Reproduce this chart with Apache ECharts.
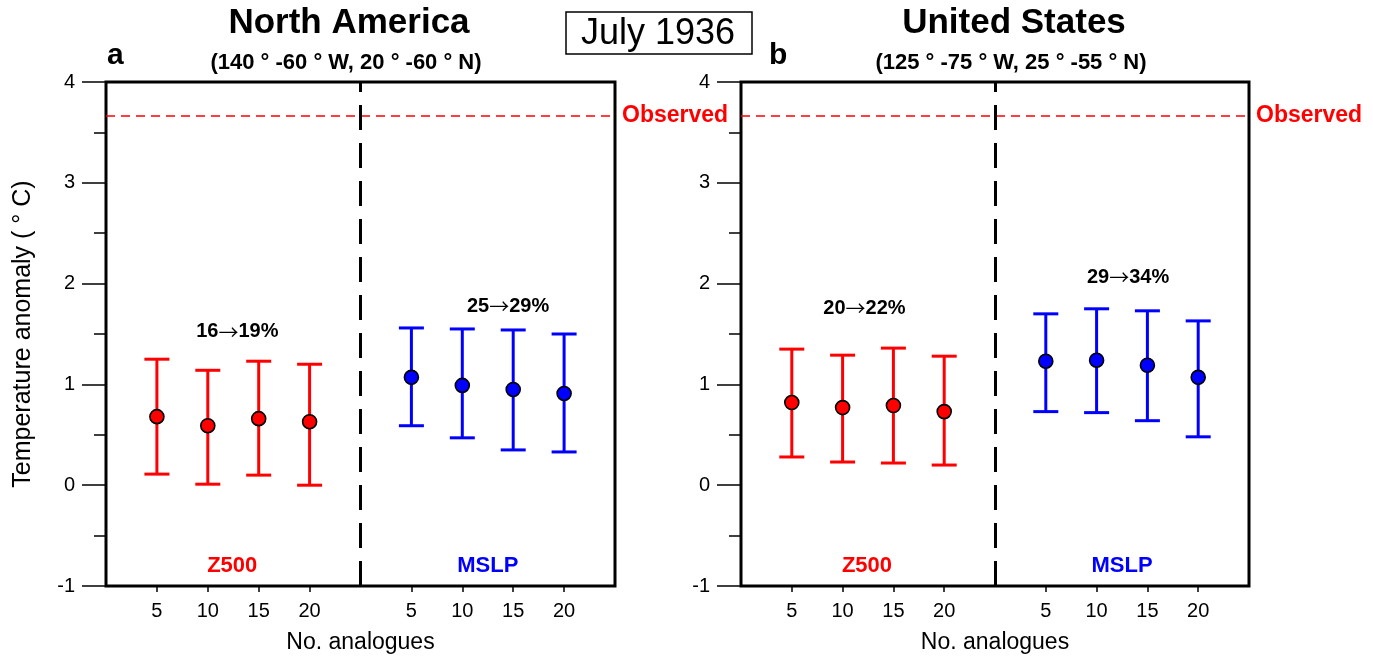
<!DOCTYPE html>
<html>
<head>
<meta charset="utf-8">
<script src="https://cdn.jsdelivr.net/npm/echarts@6/dist/echarts.min.js"></script>
<style>html,body{margin:0;padding:0;background:#fff;}#c{width:1373px;height:659px;}</style>
</head>
<body>
<div id="c"></div>
<script>
// ---------- data ----------
const slotLabels = ['', '5', '10', '15', '20', '', '5', '10', '15', '20', ''];
const z500Slots = [1, 2, 3, 4];
const mslpSlots = [6, 7, 8, 9];
const dividerSlot = 5;
const yTicks = [-1, 0, 1, 2, 3, 4];
const observed = [3.67, 3.67];

// Panel a: North America
const naZ500Mean = [0.68, 0.59, 0.66, 0.63];
const naZ500Low  = [0.11, 0.01, 0.10, 0.00];
const naZ500High = [1.25, 1.14, 1.23, 1.20];
const naMslpMean = [1.07, 0.99, 0.95, 0.91];
const naMslpLow  = [0.59, 0.47, 0.35, 0.33];
const naMslpHigh = [1.56, 1.55, 1.54, 1.50];
// Panel b: United States
const usZ500Mean = [0.82, 0.77, 0.79, 0.73];
const usZ500Low  = [0.28, 0.23, 0.22, 0.20];
const usZ500High = [1.35, 1.29, 1.36, 1.28];
const usMslpMean = [1.23, 1.24, 1.19, 1.07];
const usMslpLow  = [0.73, 0.72, 0.64, 0.48];
const usMslpHigh = [1.70, 1.75, 1.73, 1.63];

const pctFrom = [['16', '25'], ['20', '29']];
const pctTo = [['19%', '29%'], ['22%', '34%']];
const pctX = [[2.58, 7.9], [2.43, 7.62]];
const pctY = [[1.52, 1.77], [1.755, 2.06]];
const groupNames = ['Z500', 'MSLP'];
const groupX = [2.48, 7.5];
const groupY = -0.8;

const panelTitles = ['North America', 'United States'];
const panelRegions = ['(140 \u00b0 -60 \u00b0 W, 20 \u00b0 -60 \u00b0 N)', '(125 \u00b0 -75 \u00b0 W, 25 \u00b0 -55 \u00b0 N)'];
const panelLetters = ['a', 'b'];
const centerTitle = 'July 1936';
const yName = 'Temperature anomaly ( \u00b0 C)';
const xName = 'No. analogues';

// ---------- chart ----------
const FONT = '"Liberation Sans", Arial, Helvetica, sans-serif';
const ARROWFONT = '"Noto Sans CJK SC", "DejaVu Sans", sans-serif';
const RED = '#ff0000', BLUE = '#0000ff';
const grids = [
  {left: 106, top: 82, width: 509, height: 507},
  {left: 741, top: 82, width: 508, height: 507}
];

function zip3(xs, a, b) { return xs.map((x, i) => [x, a[i], b[i]]); }
function zip2(xs, a) { return xs.map((x, i) => [x, a[i]]); }

function errSeries(gi, xs, lo, hi, color) {
  return {
    type: 'custom', xAxisIndex: gi, yAxisIndex: gi, z: 3, silent: true,
    data: zip3(xs, lo, hi),
    renderItem: function (params, api) {
      const x = api.value(0);
      const a = api.coord([x, api.value(1)]);
      const b = api.coord([x, api.value(2)]);
      const h = 12.5;
      const st = {stroke: color, lineWidth: 3};
      return {type: 'group', children: [
        {type: 'line', shape: {x1: a[0], y1: a[1], x2: b[0], y2: b[1]}, style: st},
        {type: 'line', shape: {x1: a[0] - h, y1: a[1], x2: a[0] + h, y2: a[1]}, style: st},
        {type: 'line', shape: {x1: b[0] - h, y1: b[1], x2: b[0] + h, y2: b[1]}, style: st}
      ]};
    }
  };
}
function dotSeries(gi, xs, m, color) {
  return {
    type: 'scatter', xAxisIndex: gi, yAxisIndex: gi, z: 5,
    data: zip2(xs, m), symbol: 'circle', symbolSize: 14,
    itemStyle: {color: color, borderColor: '#000', borderWidth: 1.6, opacity: 1},
    emphasis: {disabled: true}, silent: true
  };
}
// text placed at data coordinates
function textSeries(gi, pts, color, size) {
  return {
    type: 'custom', xAxisIndex: gi, yAxisIndex: gi, z: 6, silent: true,
    data: pts.map(p => [p[0], p[1]]),
    renderItem: function (params, api) {
      const c = api.coord([api.value(0), api.value(1)]);
      const t = pts[params.dataIndex][2];
      return {type: 'text', x: c[0], y: c[1], style: {
        text: t, fill: color, fontFamily: FONT, fontWeight: 'bold', fontSize: size,
        align: 'center', verticalAlign: 'middle',
        rich: {
          n: {fontFamily: FONT, fontWeight: 'bold', fontSize: size, fill: color},
          a: {fontFamily: ARROWFONT, fontWeight: 'normal', fontSize: size, fill: color}
        }
      }};
    }
  };
}
function refSeries(gi) {
  return {
    type: 'line', xAxisIndex: gi, yAxisIndex: gi, data: [], silent: true,
    markLine: {
      silent: true, symbol: 'none', animation: false,
      data: [
        {yAxis: observed[gi], lineStyle: {color: RED, type: [9, 6], width: 1.5},
         label: {show: true, position: 'end', formatter: 'Observed', color: RED,
           fontFamily: FONT, fontWeight: 'bold', fontSize: 23, distance: 7}},
        {xAxis: dividerSlot, lineStyle: {color: '#000', type: [25, 13], width: 3},
         label: {show: false}}
      ]
    }
  };
}

const panels = [
  [naZ500Mean, naZ500Low, naZ500High, naMslpMean, naMslpLow, naMslpHigh],
  [usZ500Mean, usZ500Low, usZ500High, usMslpMean, usMslpLow, usMslpHigh]
];

const series = [];
panels.forEach((p, gi) => {
  series.push(refSeries(gi));
  series.push(errSeries(gi, z500Slots, p[1], p[2], RED));
  series.push(errSeries(gi, mslpSlots, p[4], p[5], BLUE));
  series.push(dotSeries(gi, z500Slots, p[0], RED));
  series.push(dotSeries(gi, mslpSlots, p[3], BLUE));
  series.push(textSeries(gi, pctFrom[gi].map((f, i) =>
    [pctX[gi][i], pctY[gi][i], '{n|' + f + '}{a|\u2192}{n|' + pctTo[gi][i] + '}']), '#000', 20));
  series.push(textSeries(gi, [[groupX[0], groupY, groupNames[0]]], RED, 22));
  series.push(textSeries(gi, [[groupX[1], groupY, groupNames[1]]], BLUE, 22));
});

const tickSlots = slotLabels.map((l, i) => l ? i : null).filter(v => v !== null);

const xAxes = grids.map((g, gi) => ({
  type: 'value', gridIndex: gi, min: 0, max: slotLabels.length - 1, interval: 1,
  name: xName, nameLocation: 'middle', nameGap: 45,
  nameTextStyle: {fontFamily: FONT, fontSize: 23, color: '#000'},
  axisLine: {show: false, onZero: false},
  axisTick: {show: true, length: 6, customValues: tickSlots, lineStyle: {color: '#000', width: 1.5}},
  axisLabel: {show: true, customValues: tickSlots, formatter: v => slotLabels[Math.round(v)],
    margin: 15, fontFamily: FONT, fontSize: 20, color: '#000'},
  splitLine: {show: false}
}));
const yAxes = grids.map((g, gi) => ({
  type: 'value', gridIndex: gi, min: yTicks[0], max: yTicks[yTicks.length - 1], interval: 1,
  name: gi === 0 ? yName : '', nameLocation: 'middle', nameGap: 70,
  nameTextStyle: {fontFamily: FONT, fontSize: 25, color: '#000'},
  axisLine: {show: false, onZero: false},
  axisTick: {show: true, length: 24, lineStyle: {color: '#000', width: 1.5}},
  minorTick: {show: true, splitNumber: 2, length: 12, lineStyle: {color: '#000', width: 1.5}},
  axisLabel: {margin: 31, fontFamily: FONT, fontSize: 20, color: '#000'},
  splitLine: {show: false}
}));

const graphic = [];
const titleCx = [349, 1014];
const letterX = [107, 769];
panelTitles.forEach((t, i) => {
  graphic.push({type: 'text', x: titleCx[i], y: 23, style: {text: t, fontFamily: FONT, fontWeight: 'bold',
    fontSize: 35, fill: '#000', textAlign: 'center', textVerticalAlign: 'middle'}});
  graphic.push({type: 'text', x: titleCx[i] - 3, y: 63, style: {text: panelRegions[i], fontFamily: FONT, fontWeight: 'bold',
    fontSize: 22, fill: '#000', textAlign: 'center', textVerticalAlign: 'middle'}});
  graphic.push({type: 'text', x: letterX[i], y: 56, style: {text: panelLetters[i], fontFamily: FONT, fontWeight: 'bold',
    fontSize: 30, fill: '#000', textAlign: 'left', textVerticalAlign: 'middle'}});
});
graphic.push({type: 'rect', shape: {x: 566, y: 12, width: 186, height: 42},
  style: {fill: '#fff', stroke: '#000', lineWidth: 1.5}});
graphic.push({type: 'text', x: 658, y: 34, style: {text: centerTitle, fontFamily: FONT,
  fontSize: 36, fill: '#000', textAlign: 'center', textVerticalAlign: 'middle'}});

const chart = echarts.init(document.getElementById('c'), null, {renderer: 'canvas'});
chart.setOption({
  animation: false,
  backgroundColor: '#fff',
  grid: grids.map(g => Object.assign({show: true, borderColor: '#000', borderWidth: 3, backgroundColor: 'transparent'}, g)),
  xAxis: xAxes,
  yAxis: yAxes,
  series: series,
  graphic: graphic
});
</script>
</body>
</html>
